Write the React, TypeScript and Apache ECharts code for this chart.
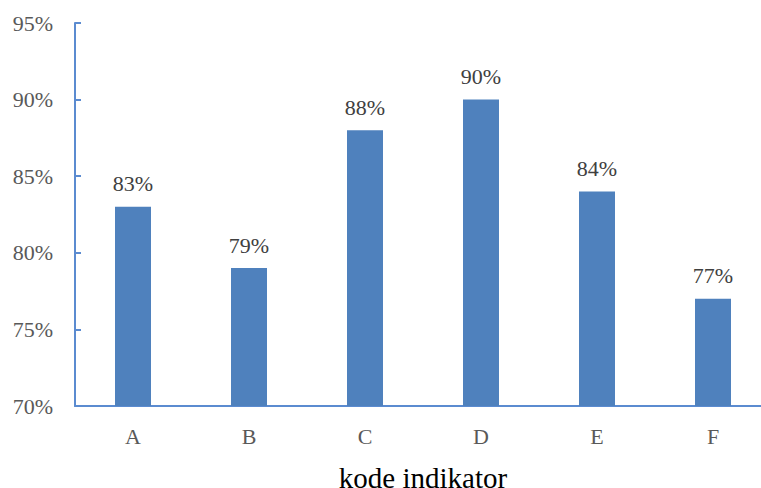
import React, { useEffect, useRef } from "react";
import * as echarts from "echarts";

const categories = ["A", "B", "C", "D", "E", "F"];
const values = [83, 79, 88, 90, 84, 77];
const yMin = 70;
const yMax = 95;
const yStep = 5;
const xAxisName = "kode indikator";

export default function App() {
  const ref = useRef<HTMLDivElement>(null);
  useEffect(() => {
    document.body.style.margin = "0";
    const chart = echarts.init(ref.current!, null, { renderer: "svg" });
    const font = "Liberation Serif";
    chart.setOption({
      animation: false,
      backgroundColor: "#ffffff",
      textStyle: { fontFamily: font },
      grid: { left: 75, top: 23, bottom: 82, width: 696, outerBoundsMode: "none", containLabel: false },
      xAxis: {
        type: "category",
        data: categories,
        name: xAxisName,
        nameLocation: "middle",
        nameGap: 57,
        nameTextStyle: { fontFamily: font, fontSize: 29, color: "#000000" },
        axisLine: { lineStyle: { color: "#5b8bd0", width: 2 } },
        axisTick: { show: false },
        axisLabel: { fontFamily: font, fontSize: 22, color: "#595959", margin: 19 },
      },
      yAxis: {
        type: "value",
        min: yMin,
        max: yMax,
        interval: yStep,
        axisLine: { show: true, lineStyle: { color: "#5b8bd0", width: 2 } },
        axisTick: { show: true, inside: true, length: 6, lineStyle: { color: "#5b8bd0", width: 2 } },
        splitLine: { show: false },
        axisLabel: { fontFamily: font, fontSize: 22, color: "#595959", margin: 22, formatter: "{value}%" },
      },
      series: [
        {
          type: "bar",
          data: values,
          barWidth: 36,
          itemStyle: { color: "#4f81bd" },
          label: {
            show: true,
            position: "top",
            distance: 12,
            formatter: "{c}%",
            fontFamily: font,
            fontSize: 22,
            color: "#404040",
          },
        },
      ],
    });
    return () => chart.dispose();
  }, []);
  return <div ref={ref} style={{ width: 761, height: 488 }} />;
}
